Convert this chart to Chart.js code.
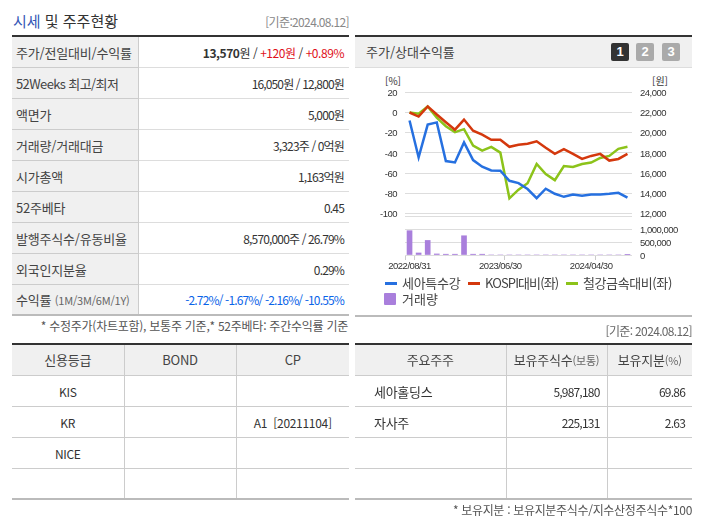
<!DOCTYPE html>
<html lang="ko">
<head>
<meta charset="utf-8">
<title>시세 및 주주현황</title>
<script src="https://cdn.jsdelivr.net/npm/chart.js@4"></script>
<style>
html, body { margin: 0; padding: 0; background: #fff; }
body { width: 702px; height: 525px; position: relative; overflow: hidden;
       font-family: "Noto Sans CJK KR", sans-serif; color: #333; font-size: 12px; }
.abs { position: absolute; white-space: nowrap; line-height: 16px; }
table { position: absolute; border-collapse: collapse; table-layout: fixed; }
td, th { padding: 0; font-weight: normal; overflow: hidden; white-space: nowrap; box-sizing: border-box; }
.quote { left: 12px; top: 35px; width: 337px; border-top: 2px solid #333; border-bottom: 2px solid #bbb; }
.quote tr { height: 31px; }
.quote th { background: #f0f0f0; text-align: left; padding-left: 4px; padding-top: 1px; font-size: 13px;
            border-right: 1px solid #ccc; border-bottom: 1px solid #ccc; color: #444; letter-spacing: -0.2px; }
.quote td { text-align: right; padding-right: 5px; padding-top: 1px; border-bottom: 1px solid #ddd; letter-spacing: -0.85px; }
.quote tr:last-child th, .quote tr:last-child td { border-bottom: 0; }
.quote small { font-size: 11px; color: #666; }
.grid { top: 343px; border-top: 2px solid #333; border-bottom: 2px solid #bbb; }
.grid tr { height: 31px; }
.grid th { background: #f0f0f0; font-size: 13px; color: #444; letter-spacing: -0.2px; }
.grid td { padding-top: 2px; letter-spacing: -0.3px; }
.grid th, .grid td { border-bottom: 1px solid #ccc; border-right: 1px solid #ccc; }
.grid th:last-child, .grid td:last-child { border-right: 0; }
.grid tr:last-child td { border-bottom: 0; }
.grid small { font-size: 11px; color: #666; }
.center td { text-align: center; }
.grid td.num { text-align: right; padding-right: 7px; letter-spacing: -0.8px; }
.up { color: #e0101a; }
.down { color: #0a64e8; }
.btn { position: absolute; top: 43px; width: 18px; height: 18px; border-radius: 2px; background: #aaa; color: #fff;
       font: bold 13px/18px "Liberation Sans", sans-serif; text-align: center; }
.legend-text { font-size: 13px; line-height: 14px; color: #444; }
#chartWrap { position: absolute; left: 355px; top: 70px; width: 347px; height: 205px; }
</style>
</head>
<body>
<div class="abs" style="left:13px;top:12px;font-size:15px;line-height:18px;"><span style="color:#3457b6">시세</span> 및 주주현황</div>
<div class="abs" style="right:353px;top:14px;color:#888;letter-spacing:-0.65px;">[기준:2024.08.12]</div>

<table class="quote">
<colgroup><col style="width:126px"><col></colgroup>
<tr><th>주가/전일대비/수익률</th><td style="letter-spacing:-0.45px"><b>13,570</b>원 / <span class="up">+120원</span> / <span class="up">+0.89%</span></td></tr>
<tr><th style="letter-spacing:-0.6px">52Weeks 최고/최저</th><td>16,050원 / 12,800원</td></tr>
<tr><th>액면가</th><td>5,000원</td></tr>
<tr><th>거래량/거래대금</th><td>3,323주 / 0억원</td></tr>
<tr><th>시가총액</th><td>1,163억원</td></tr>
<tr><th>52주베타</th><td>0.45</td></tr>
<tr><th>발행주식수/유동비율</th><td>8,570,000주 / 26.79%</td></tr>
<tr><th>외국인지분율</th><td>0.29%</td></tr>
<tr><th>수익률 <small>(1M/3M/6M/1Y)</small></th><td class="down">-2.72%/ -1.67%/ -2.16%/ -10.55%</td></tr>
</table>
<div class="abs" style="right:354px;top:318px;color:#555;letter-spacing:-0.25px;">* 수정주가(차트포함), 보통주 기준,* 52주베타: 주간수익률 기준</div>

<!-- 차트 패널 -->
<div style="position:absolute;left:355px;top:35px;width:337px;height:30px;background:#f0f0f0;border-top:2px solid #333;border-bottom:1px solid #ddd;"></div>
<div class="abs" style="left:366px;top:44px;font-size:13px;color:#444;">주가/상대수익률</div>
<div class="btn" style="left:611px;background:#333;">1</div>
<div class="btn" style="left:636px;">2</div>
<div class="btn" style="left:662px;">3</div>
<div class="abs" style="left:385px;top:73px;font-size:10px;">[%]</div>
<div class="abs" style="left:652px;top:73px;font-size:10px;">[원]</div>
<div id="chartWrap"><canvas id="priceChart" width="347" height="205"></canvas></div>

<!-- 범례 -->
<div style="position:absolute;left:385px;top:282px;width:12px;height:3px;background:#2670e0;"></div>
<div class="abs legend-text" style="left:402px;top:276px;letter-spacing:-0.3px;">세아특수강</div>
<div style="position:absolute;left:468px;top:282px;width:12px;height:3px;background:#d4380d;"></div>
<div class="abs legend-text" style="left:485px;top:276px;letter-spacing:-0.9px;">KOSPI대비(좌)</div>
<div style="position:absolute;left:566px;top:282px;width:12px;height:3px;background:#8cc31a;"></div>
<div class="abs legend-text" style="left:583px;top:276px;letter-spacing:-0.4px;">철강금속대비(좌)</div>
<div style="position:absolute;left:384px;top:293px;width:12px;height:12px;border-radius:1px;background:#a97fdc;"></div>
<div class="abs legend-text" style="left:402px;top:292px;">거래량</div>
<div style="position:absolute;left:355px;top:315px;width:337px;height:2px;background:#bbb;"></div>

<div class="abs" style="right:10px;top:323px;color:#666;letter-spacing:-0.65px;">[기준: 2024.08.12]</div>

<table class="grid center" style="left:12px;width:337px;">
<colgroup><col style="width:112px"><col style="width:112px"><col></colgroup>
<tr><th>신용등급</th><th>BOND</th><th>CP</th></tr>
<tr><td>KIS</td><td></td><td></td></tr>
<tr><td>KR</td><td></td><td>A1 &nbsp;[20211104]</td></tr>
<tr><td>NICE</td><td></td><td></td></tr>
<tr><td></td><td></td><td></td></tr>
</table>

<table class="grid" style="left:355px;width:337px;">
<colgroup><col style="width:151px"><col style="width:101px"><col></colgroup>
<tr><th>주요주주</th><th>보유주식수<small>(보통)</small></th><th>보유지분<small>(%)</small></th></tr>
<tr><td style="padding-left:19px;font-size:13px;">세아홀딩스</td><td class="num">5,987,180</td><td class="num">69.86</td></tr>
<tr><td style="padding-left:19px;font-size:13px;">자사주</td><td class="num">225,131</td><td class="num">2.63</td></tr>
<tr><td></td><td></td><td></td></tr>
<tr><td></td><td></td><td></td></tr>
</table>
<div class="abs" style="right:10px;top:502px;color:#555;letter-spacing:-0.32px;">* 보유지분 : 보유지분주식수/지수산정주식수*100</div>

<script>
// --- 차트 데이터 ---
const categories = [
    '2022/08/31', '2022/09/30', '2022/10/31', '2022/11/30', '2022/12/29',
    '2023/01/31', '2023/02/28', '2023/03/31', '2023/04/28', '2023/05/31',
    '2023/06/30', '2023/07/31', '2023/08/31', '2023/09/27', '2023/10/31',
    '2023/11/30', '2023/12/28', '2024/01/31', '2024/02/29', '2024/03/29',
    '2024/04/30', '2024/05/31', '2024/06/28', '2024/07/31', '2024/08/12'
];
const xTickLabels = ['2022/08/31', '2023/06/30', '2024/04/30'];
const xTickMarks = [0, 1, 11, 21];

const priceValues = [21200, 17550, 20800, 21020, 17190, 17050, 19040, 17290, 16630, 16260,
    16230, 15240, 15010, 14420, 13520, 14450, 13950, 13650, 13880, 13750,
    13880, 13880, 13950, 14050, 13570];
const kospiValues = [0, -4, 6, -2, -9.6, -17, -7, -18, -22, -27,
    -27, -34, -32, -31, -28.5, -35, -41, -36.4, -41, -46,
    -43, -41, -47.6, -46, -41];
const steelValues = [0, -1.3, 6, -5, -13.6, -19.5, -16.5, -32.7, -37.7, -34,
    -39.7, -85, -76.4, -70, -51, -61, -67, -53, -54, -51,
    -49.6, -45, -43, -36, -34];
const volumeValues = [935000, 78000, 560000, 40000, 30000, 30000, 740000, 30000, 30000, 0,
    0, 0, 0, 0, 0, 0, 0, 0, 0, 0,
    0, 0, 0, 0, 3323];

const percentTicks = [20, 0, -20, -40, -60, -80, -100];
const wonTicks = [24000, 22000, 20000, 18000, 16000, 14000, 12000];
const volumeTicks = [0, 500000, 1000000, 1500000];

const tickFont = { family: '"Liberation Sans", sans-serif', size: 9.5 };
const gridColor = '#dddddd';

function fixTicks(values) {
    return function (scale) {
        scale.ticks = values.map(v => ({ value: v }));
    };
}

function fixWidth(w) {
    return function (scale) {
        scale.width = w;
    };
}

// 눈금 글자 간격을 좁게
const tightText = {
    id: 'tightText',
    beforeDraw: function (chart) {
        chart.ctx.letterSpacing = '-0.5px';
    }
};

document.addEventListener('DOMContentLoaded', function () {
    new Chart(document.getElementById('priceChart').getContext('2d'), {
        plugins: [tightText],
        data: {
            labels: categories,
            datasets: [
                { type: 'line', label: '세아특수강', data: priceValues, yAxisID: 'yWon', borderColor: '#2670e0', borderWidth: 2.5, pointRadius: 0, tension: 0 },
                { type: 'line', label: 'KOSPI대비(좌)', data: kospiValues, yAxisID: 'yPercent', borderColor: '#d4380d', borderWidth: 2.5, pointRadius: 0, tension: 0 },
                { type: 'line', label: '철강금속대비(좌)', data: steelValues, yAxisID: 'yPercent', borderColor: '#8cc31a', borderWidth: 2.5, pointRadius: 0, tension: 0 },
                { type: 'bar', label: '거래량', data: volumeValues, yAxisID: 'yVolume', backgroundColor: '#a97fdc', barThickness: 5 }
            ]
        },
        options: {
            responsive: false,
            animation: false,
            layout: { padding: { top: 22.3 } },
            plugins: { legend: { display: false }, tooltip: { enabled: false } },
            scales: {
                x: {
                    offset: true,
                    border: { display: false },
                    grid: {
                        offset: true,
                        drawOnChartArea: false,
                        tickLength: 5,
                        tickColor: ctx => xTickMarks.includes(ctx.index) ? '#cccccc' : 'transparent'
                    },
                    ticks: {
                        autoSkip: false,
                        maxRotation: 0,
                        font: tickFont,
                        color: '#333',
                        padding: 1,
                        callback: function (value) {
                            const label = this.getLabelForValue(value);
                            return xTickLabels.includes(label) ? label : '';
                        }
                    },
                    afterFit: function (scale) { scale.height = 20; }
                },
                yPercent: {
                    position: 'left', stack: 'main', stackWeight: 123.7, weight: 2,
                    min: -102.5, max: 20,
                    border: { display: false },
                    grid: { color: gridColor, drawTicks: false },
                    ticks: { font: tickFont, color: '#333', padding: 8, labelOffset: 1, autoSkip: false },
                    afterBuildTicks: fixTicks(percentTicks),
                    afterFit: fixWidth(50)
                },
                yPad: {
                    position: 'left', stack: 'main', stackWeight: 39, weight: 1,
                    min: 0, max: 1,
                    border: { display: false },
                    grid: { display: false },
                    ticks: { display: false },
                    afterFit: fixWidth(50)
                },
                yWon: {
                    position: 'right', stack: 'main', stackWeight: 123.7, weight: 1,
                    min: 11750, max: 24000,
                    border: { display: false },
                    grid: { display: false, drawTicks: false },
                    ticks: { font: tickFont, color: '#333', padding: 8, labelOffset: 1, autoSkip: false },
                    afterBuildTicks: fixTicks(wonTicks),
                    afterFit: fixWidth(70)
                },
                yVolume: {
                    position: 'right', stack: 'main', stackWeight: 39, weight: 2,
                    min: 0, max: 1500000,
                    border: { display: false },
                    grid: { color: gridColor, drawTicks: false },
                    ticks: {
                        font: tickFont, color: '#333', padding: 8, labelOffset: 1, autoSkip: false,
                        callback: v => v > 1000000 ? '' : v.toLocaleString('en-US')
                    },
                    afterBuildTicks: fixTicks(volumeTicks),
                    afterFit: fixWidth(70)
                }
            }
        }
    });
});
</script>
</body>
</html>
